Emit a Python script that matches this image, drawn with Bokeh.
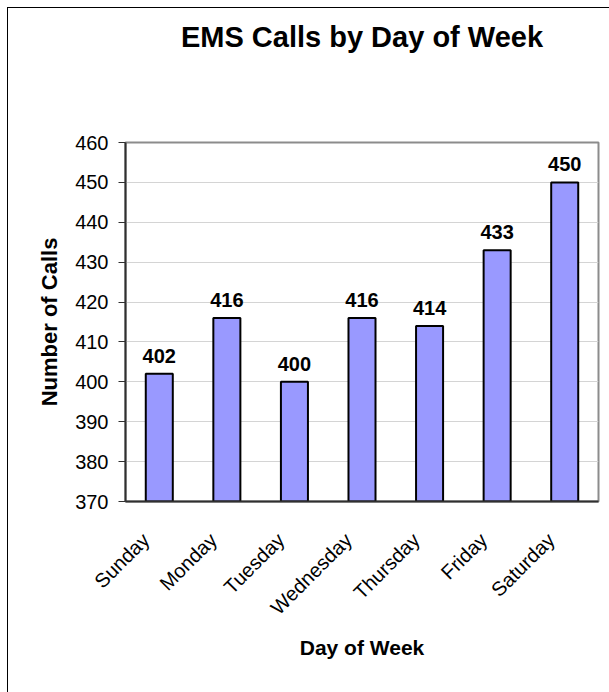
import math
from bokeh.plotting import figure
from bokeh.models import (ColumnDataSource, Range1d, FixedTicker,
                          LinearAxis, InlineStyleSheet)
from bokeh.core.properties import value
from bokeh.embed import file_html
from bokeh.resources import INLINE

days = ["Sunday", "Monday", "Tuesday", "Wednesday", "Thursday", "Friday", "Saturday"]
calls = [402, 416, 400, 416, 414, 433, 450]
y_ticks = [370, 380, 390, 400, 410, 420, 430, 440, 450, 460]
labels = [str(v) for v in calls]
title_text = "EMS Calls by Day of Week"

FONT = "Liberation Sans"
LABEL_SHIFT = 0.2  # tick labels sit slightly left of the bar centres

n = len(days)
pos = [i + 0.5 for i in range(n)]  # category centres
src = ColumnDataSource(dict(x=pos, day=days, calls=calls, label=labels))

p = figure(width=609, height=692, output_backend="svg", toolbar_location=None,
           x_range=Range1d(0, n), y_range=Range1d(370, 460),
           min_border_left=125, min_border_right=11,
           min_border_top=142, min_border_bottom=191,
           background_fill_color="white", border_fill_color="white",
           x_axis_location=None)

p.vbar(x="x", top="calls", bottom=370, width=0.4, source=src,
       fill_color="#9999ff", line_color="black", line_width=2)

p.text(x="x", y="calls", text="label", source=src,
       text_font=value(FONT), text_font_size="20px", text_font_style="bold",
       text_align="center", text_baseline="alphabetic", y_offset=-18,
       text_color="black")

# title, carried by an empty axis above the frame so it can sit high up
tax = LinearAxis(ticker=FixedTicker(ticks=[]), axis_label=title_text)
tax.axis_line_color = None
tax.major_tick_line_color = None
tax.major_tick_out = 0
tax.major_tick_in = 0
tax.major_label_standoff = 0
tax.major_label_text_font_size = "0px"
tax.axis_label_standoff = 90
tax.axis_label_text_font_size = "29px"
p.add_layout(tax, "above")

# y axis
yax = p.yaxis[0]
yax.ticker = FixedTicker(ticks=y_ticks)
yax.axis_label = "Number of Calls"
yax.axis_label_text_font_size = "22px"
yax.major_tick_out = 7
yax.major_tick_in = 0
yax.major_tick_line_color = "#303030"
yax.major_label_standoff = 10
yax.axis_label_standoff = 10

# x axis line only (no ticks)
xax = LinearAxis(ticker=FixedTicker(ticks=[]))
xax.major_tick_out = 0
xax.major_tick_in = 0
xax.major_label_standoff = 0
xax.major_label_text_font_size = "0px"
p.add_layout(xax, "below")

# category labels, tick positions shifted a bit left of the bar centres
p.extra_x_ranges = {"lab": Range1d(-0.5 + LABEL_SHIFT, n - 0.5 + LABEL_SHIFT)}
lab_ax = LinearAxis(x_range_name="lab",
                    ticker=FixedTicker(ticks=list(range(n))),
                    major_label_overrides={i: d for i, d in enumerate(days)},
                    axis_label="Day of Week")
lab_ax.axis_line_color = None
lab_ax.major_tick_line_color = None
lab_ax.major_tick_out = 0
lab_ax.major_tick_in = 0
lab_ax.major_label_orientation = math.pi / 4
lab_ax.major_label_standoff = 35
lab_ax.axis_label_standoff = 7
lab_ax.axis_label_text_font_size = "21px"
p.add_layout(lab_ax, "below")

for ax in (xax, yax, lab_ax, tax):
    ax.axis_label_text_font = FONT
    ax.axis_label_text_font_style = "bold"
    ax.axis_label_text_color = "black"
    ax.major_label_text_font = FONT
    ax.minor_tick_line_color = None
for ax in (yax, lab_ax):
    ax.major_label_text_font_size = "20px"
    ax.major_label_text_color = "black"
for ax in (xax, yax):
    ax.axis_line_width = 2
    ax.axis_line_color = "#303030"

p.xgrid.grid_line_color = None
p.ygrid.grid_line_color = "#d4d4d4"
p.ygrid.grid_line_width = 1

p.outline_line_color = "#8c8c8c"
p.outline_line_width = 2

# outer chart border (cut off at right and bottom in the reference)
p.stylesheets = [InlineStyleSheet(css="""
:host { position: relative; }
:host::after {
  content: ""; position: absolute; left: 7px; top: 7px;
  width: 602px; height: 685px; box-sizing: border-box;
  border-top: 1.5px solid black; border-left: 1.5px solid black;
  pointer-events: none;
}
""")]

open("out.html", "w").write(file_html(p, INLINE))
